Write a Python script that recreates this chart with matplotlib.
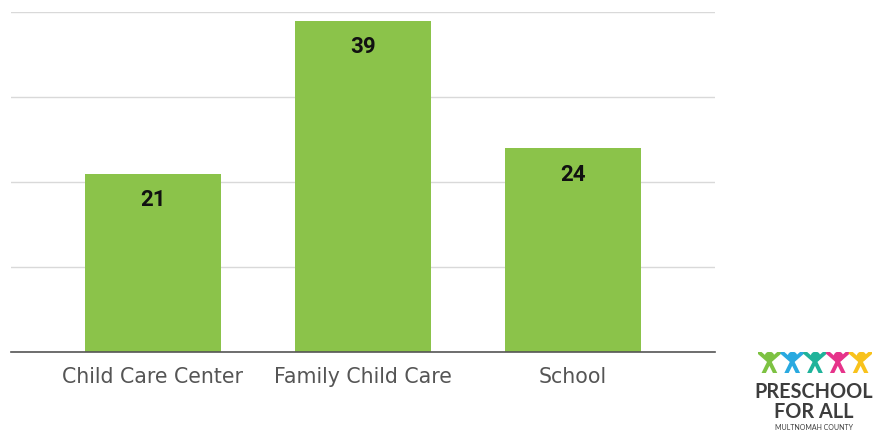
import numpy as np
import matplotlib.pyplot as plt

# data
categories = ['Child Care Center', 'Family Child Care', 'School']
counts = [21, 39, 24]
logo_colors = ['#7dc242', '#29a9e0', '#1fb39a', '#e6338a', '#f8c21c']

W, H = 874, 433
fig = plt.figure(figsize=(W / 100, H / 100), dpi=100)
ax = fig.add_axes([11 / W, 1 - 352 / H, 704 / W, 340 / H])

x = np.arange(len(categories))
bars = ax.bar(x, counts, width=0.65, color='#8bc34a', zorder=2)
for b, v in zip(bars, counts):
    ax.text(b.get_x() + b.get_width() / 2, v - 3.85, str(v), ha='center', va='baseline',
            fontsize=16, fontweight='bold', family='Roboto', color='#111111', zorder=3)

ax.set_xlim(-0.676, 2.676)
ax.set_ylim(0, 40)
ax.set_yticks([0, 10, 20, 30, 40])
ax.set_yticklabels([])
ax.tick_params(axis='y', length=0)
ax.tick_params(axis='x', length=0, pad=11)
ax.set_xticks(x)
ax.set_xticklabels(categories, fontsize=14.8, color='#555555', family='DejaVu Sans')
ax.grid(axis='y', color='#d9d9d9', linewidth=1, zorder=0)
for s in ['top', 'right', 'left']:
    ax.spines[s].set_visible(False)
ax.spines['bottom'].set_color('#555555')
ax.spines['bottom'].set_linewidth(1.2)
ax.spines['bottom'].set_zorder(3)

# logo
lax = fig.add_axes([758 / W, 1 - 373 / H, 114 / W, 21 / H])
lax.set_xlim(0, 5)
lax.set_ylim(0, 1)
lax.axis('off')
for i, c in enumerate(logo_colors):
    cx = i + 0.5
    lax.plot([cx], [0.8], 'o', color=c, markersize=6)
    lax.plot([cx - 0.42, cx, cx + 0.42], [0.95, 0.55, 0.95], color=c, linewidth=2.8)
    lax.plot([cx - 0.25, cx, cx + 0.25], [0.0, 0.55, 0.0], color=c, linewidth=2.8)
fig.text(814 / W, 1 - 392 / H, 'PRESCHOOL', ha='center', va='center', fontsize=14.3,
         fontweight='bold', color='#3d3d3d', family='Lato')
fig.text(814 / W, 1 - 412 / H, 'FOR ALL', ha='center', va='center', fontsize=14.3,
         fontweight='bold', color='#3d3d3d', family='Lato')
fig.text(814 / W, 1 - 428 / H, 'MULTNOMAH COUNTY', ha='center', va='center', fontsize=5,
         color='#3d3d3d', family='Lato')

fig.savefig('out.png', dpi=100)
